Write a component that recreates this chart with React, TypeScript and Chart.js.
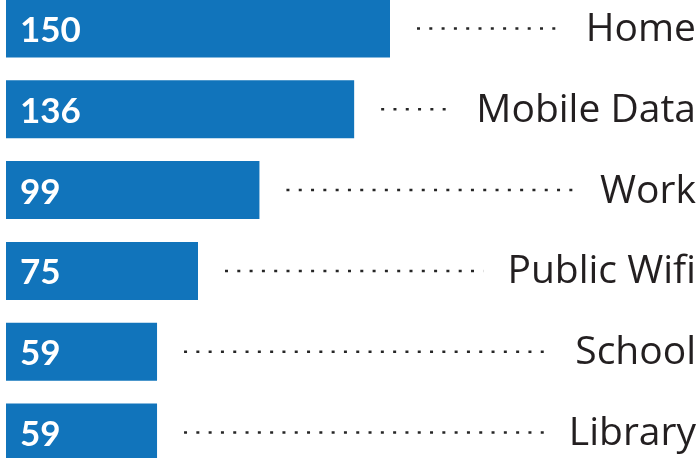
import React, { useEffect, useRef } from "react";
import { Chart, registerables } from "chart.js";

Chart.register(...registerables);

const categories = ["Home", "Mobile Data", "Work", "Public Wifi", "School", "Library"];
const values = [150, 136, 99, 75, 59, 59];
const barColor = "#1174BB";

const labelPlugin = {
  id: "leaderLabels",
  afterDatasetsDraw(chart: any) {
    const ctx = chart.ctx;
    const meta = chart.getDatasetMeta(0);
    const rightEdge = 696;
    ctx.save();
    meta.data.forEach((bar: any, i: number) => {
      const y = bar.y;
      // value inside bar
      ctx.font = "bold 35px Lato";
      ctx.fillStyle = "#ffffff";
      ctx.textAlign = "left";
      ctx.textBaseline = "alphabetic";
      ctx.fillText(String(values[i]), bar.base + 14, y + 13.5);
      // category label
      ctx.font = "39px 'Open Sans'";
      ctx.fillStyle = "#231f20";
      ctx.textAlign = "right";
      ctx.fillText(categories[i], rightEdge, y + 12.5);
      const w = ctx.measureText(categories[i]).width;
      const labelStart = rightEdge - w;
      // dotted leader
      ctx.beginPath();
      ctx.setLineDash([3, 9.3]);
      ctx.lineWidth = 2.5;
      ctx.strokeStyle = "#262626";
      ctx.moveTo(bar.x + 27, y);
      ctx.lineTo(labelStart - 24, y);
      ctx.stroke();
      ctx.setLineDash([]);
    });
    ctx.restore();
  },
};

export default function App() {
  const ref = useRef<HTMLCanvasElement | null>(null);
  useEffect(() => {
    if (!ref.current) return;
    const chart = new Chart(ref.current, {
      type: "bar",
      data: {
        labels: categories,
        datasets: [
          {
            data: values,
            backgroundColor: barColor,
            borderWidth: 0,
            barPercentage: 1,
            categoryPercentage: 0.718,
          },
        ],
      },
      options: {
        indexAxis: "y",
        animation: false,
        responsive: true,
        maintainAspectRatio: false,
        layout: { padding: { left: 6, right: 309, top: 0, bottom: 0 } },
        scales: {
          x: { display: false, min: 0, max: 150 },
          y: { display: false },
        },
        plugins: { legend: { display: false }, tooltip: { enabled: false } },
      },
      plugins: [labelPlugin],
    });
    return () => chart.destroy();
  }, []);
  return (
    <div style={{ position: "fixed", left: 0, top: 0, width: 699, height: 458, overflow: "hidden", background: "#fff" }}>
      <div style={{ position: "absolute", left: 0, top: -12, width: 699, height: 485 }}>
        <canvas ref={ref} />
      </div>
    </div>
  );
}
